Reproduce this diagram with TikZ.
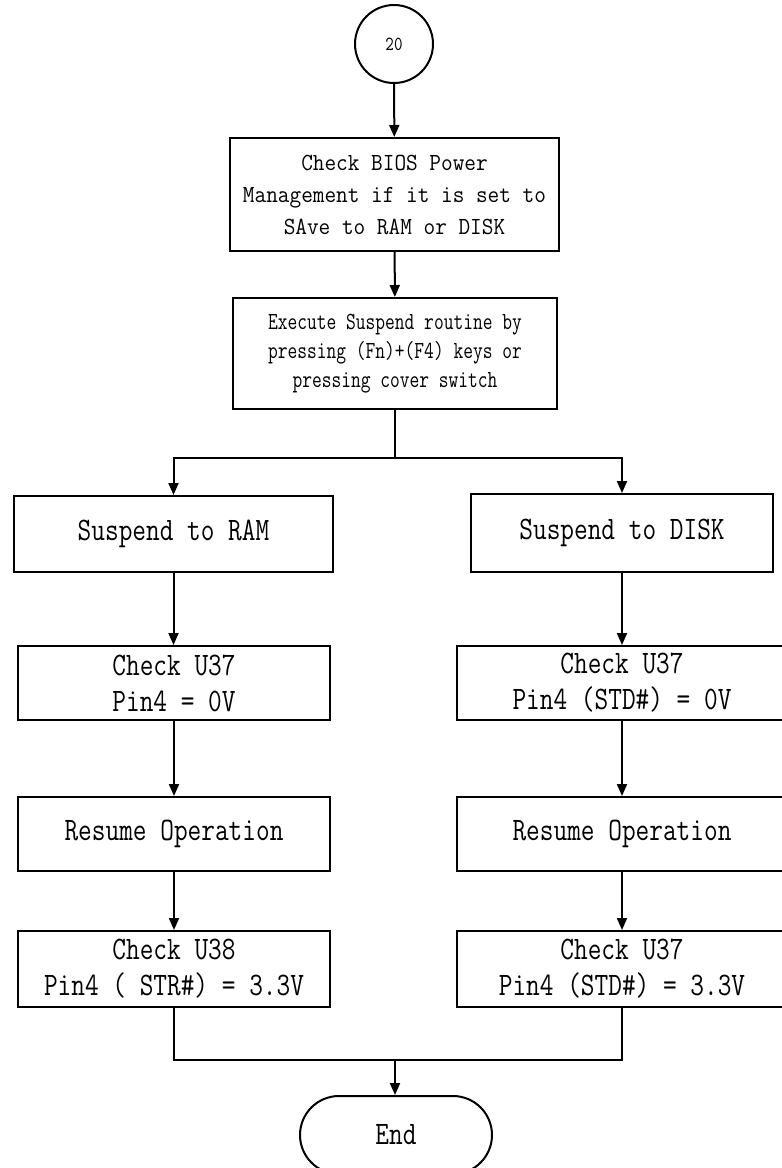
\documentclass[tikz,border=0pt]{standalone}
\usepackage{fontspec}
\setmainfont{Liberation Serif}
\newfontfamily\fbig[FakeStretch=0.81]{Latin Modern Mono}
\newfontfamily\fmid[FakeStretch=0.92]{Latin Modern Mono}
\newfontfamily\fnar[FakeStretch=0.77]{Latin Modern Mono}
\newfontfamily\fsml[FakeStretch=0.81]{Latin Modern Mono}
\usetikzlibrary{arrows.meta}
\tikzset{
  box/.style={draw=black, line width=1pt, rectangle, inner sep=0pt, align=center, fill=white},
  lowbox/.style={box, font=\fbig\fontsize{16.4}{18}\selectfont},
  arr/.style={-{Triangle[width=5pt,length=6pt]}},
  conn/.style={line width=1pt, draw=black}
}
\begin{document}
\begin{tikzpicture}[x=0.5pt,y=-0.5pt]
\useasboundingbox (0,0) rectangle (782,1168);
\fill[white] (0,0) rectangle (782,1168);

\node[circle, draw=black, line width=1pt, minimum size=39pt, inner sep=0pt,
      font=\fsml\fontsize{10}{12}\selectfont] (c20) at (394,44) {20};

\node[box, minimum width=164.5pt, minimum height=56.5pt,
      font=\fmid\fontsize{12.3}{16}\selectfont] (b1) at (394.5,194.5)
  {Check BIOS Power\\Management if it is set to\\SAve to RAM or DISK};

\node[box, minimum width=162pt, minimum height=55.5pt,
      font=\fnar\fontsize{12.3}{14.5}\selectfont] (b2) at (395,353.5)
  {Execute Suspend routine by\\pressing (Fn)+(F4) keys or\\pressing cover switch};

\node[lowbox, minimum width=159.5pt, minimum height=38pt] (sram) at (173.5,534) {Suspend to RAM};
\node[lowbox, minimum width=151pt, minimum height=39pt] (sdisk) at (622,533) {Suspend to DISK};

\node[lowbox, minimum width=156pt, minimum height=37pt] (cl1) at (174,683) {Check U37\\Pin4 = 0V};
\node[lowbox, minimum width=165pt, minimum height=37pt] (cr1) at (622,683) {Check U37\\Pin4 (STD\#) = 0V};

\node[lowbox, minimum width=156pt, minimum height=37pt] (rl) at (174,834) {Resume Operation};
\node[lowbox, minimum width=165pt, minimum height=37pt] (rr) at (622,834) {Resume Operation};

\node[lowbox, minimum width=156pt, minimum height=38pt] (ul) at (174,969) {Check U38\\Pin4 ( STR\#) = 3.3V};
\node[lowbox, minimum width=165pt, minimum height=38pt] (ur) at (622,969) {Check U37\\Pin4 (STD\#) = 3.3V};

\node[draw=black, line width=1pt, rectangle, rounded corners=19.5pt,
      minimum width=96pt, minimum height=39pt, inner sep=0pt,
      font=\fbig\fontsize{16.4}{18}\selectfont] (endn) at (396,1135) {End};

\coordinate (bj) at (395,458);
\coordinate (mj) at (395,1060);

\draw[conn, arr] (c20) -- (b1);
\draw[conn, arr] (b1) -- (b2);
\draw[conn] (b2.south) -- (bj);
\draw[conn, arr] (bj) -| (sram.north);
\draw[conn, arr] (bj) -| (sdisk.north);
\draw[conn, arr] (sram.south) -- (sram.south |- cl1.north);
\draw[conn, arr] (sdisk.south) -- (sdisk.south |- cr1.north);
\draw[conn, arr] (cl1) -- (rl);
\draw[conn, arr] (cr1) -- (rr);
\draw[conn, arr] (rl) -- (ul);
\draw[conn, arr] (rr) -- (ur);
\draw[conn] (ul.south) |- (mj);
\draw[conn] (ur.south) |- (mj);
\draw[conn, arr] (mj) -- (mj |- endn.north);
\end{tikzpicture}
\end{document}
